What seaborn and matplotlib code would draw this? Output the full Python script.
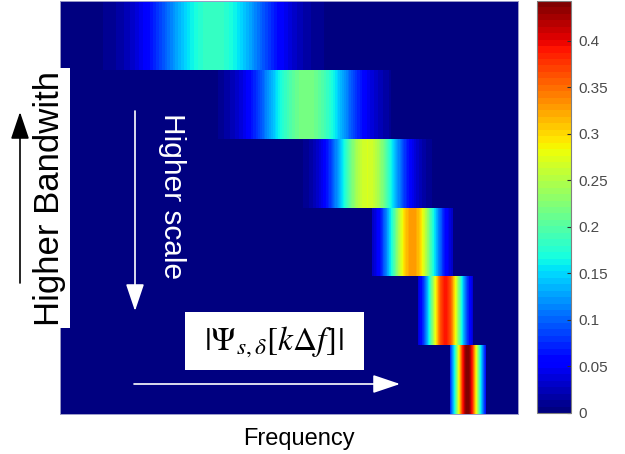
import numpy as np
import pandas as pd
import seaborn as sns
import matplotlib
import matplotlib.pyplot as plt
from matplotlib.patches import Rectangle, FancyArrowPatch

plt.rcParams['font.family'] = ['Liberation Sans', 'DejaVu Sans']
plt.rcParams['mathtext.fontset'] = 'stix'

# Frequency bins across the image (one per column)
n_bins = 458

# One row per scale (top = lowest scale)
scales = ['s1', 's2', 's3', 's4', 's5', 's6']
center_bin = [153, 246, 307, 352, 385, 407]
bandwidth_bin = [43, 35, 24, 18, 12.5, 9.3]
peak_value = [0.185, 0.22, 0.27, 0.33, 0.39, 0.44]
window_start = [0, 158, 243, 312, 358, 390]
window_end = [310, 330, 372, 392, 412, 425]

cbar_ticks = [0, 0.05, 0.1, 0.15, 0.2, 0.25, 0.3, 0.35, 0.4]
cbar_labels = ['0', '0.05', '0.1', '0.15', '0.2', '0.25', '0.3', '0.35', '0.4']

# Build |Psi_s(k df)| magnitude for each scale, truncated to its window
k = np.arange(n_bins)
rows = []
for c, bw, pk, lo, hi in zip(center_bin, bandwidth_bin, peak_value, window_start, window_end):
    mag = pk * np.exp(-0.5 * ((k - c) / bw) ** 2)
    mag[(k < lo) | (k > hi)] = 0
    rows.append(mag)
df = pd.DataFrame(rows, index=scales, columns=k)

W, H = 625, 454


def fx(px):
    return px / W


def fy(py):
    return 1 - py / H


fig = plt.figure(figsize=(6.25, 4.54), dpi=100)
ax = fig.add_axes([fx(60), fy(414), 458 / W, 413 / H])
cax = fig.add_axes([fx(537), fy(413), 34 / W, 412 / H])

jet = matplotlib.colormaps['jet'].resampled(64)
sns.heatmap(df, ax=ax, cbar_ax=cax, cmap=jet, vmin=0, vmax=0.443,
            xticklabels=False, yticklabels=False,
            cbar_kws={'ticks': cbar_ticks})

for s in ax.spines.values():
    s.set_visible(True)
    s.set_color('#9a9ac8')
    s.set_linewidth(0.7)
ax.set_xlabel('')
ax.set_ylabel('')

cb = ax.collections[0].colorbar
cb.set_ticks(cbar_ticks)
cb.set_ticklabels(cbar_labels)
cb.outline.set_linewidth(0.8)
cb.outline.set_edgecolor('#808080')
cax.tick_params(direction='in', length=3, width=0.8, color='#303030',
                labelsize=11, labelcolor='#4a4a4a', pad=5)

fig.text(fx(299), fy(445), 'Frequency', ha='center', va='baseline',
         fontsize=17, color='black')

# white boxes
fig.add_artist(Rectangle((fx(0), fy(328)), 70 / W, 260 / H, transform=fig.transFigure,
                         facecolor='white', edgecolor='none', zorder=5))
fig.add_artist(Rectangle((fx(185), fy(370)), 179 / W, 58 / H, transform=fig.transFigure,
                         facecolor='white', edgecolor='none', zorder=5))

fig.text(fx(50), fy(199), 'Higher Bandwith', rotation=90, ha='center', va='center',
         fontsize=25, color='black', zorder=6)
fig.text(fx(172), fy(196), 'Higher scale', rotation=270, ha='center', va='center',
         fontsize=21.5, color='white', zorder=6)
fig.text(fx(274), fy(342), r'$|\Psi_{s,\delta}[k\Delta f]|$', ha='center', va='center',
         fontsize=24, color='black', zorder=6)

style = '-|>,head_length=0.8,head_width=0.27'
arrows = [((20, 283), (20, 112), 'black'),
          ((135, 111), (135, 311), 'white'),
          ((134, 384), (400, 384), 'white')]
for (x0, y0), (x1, y1), col in arrows:
    fig.add_artist(FancyArrowPatch((fx(x0), fy(y0)), (fx(x1), fy(y1)),
                                   transform=fig.transFigure, arrowstyle=style,
                                   mutation_scale=21, color=col, lw=1.2,
                                   shrinkA=0, shrinkB=0, zorder=6))

plt.savefig('out.png', dpi=100)
